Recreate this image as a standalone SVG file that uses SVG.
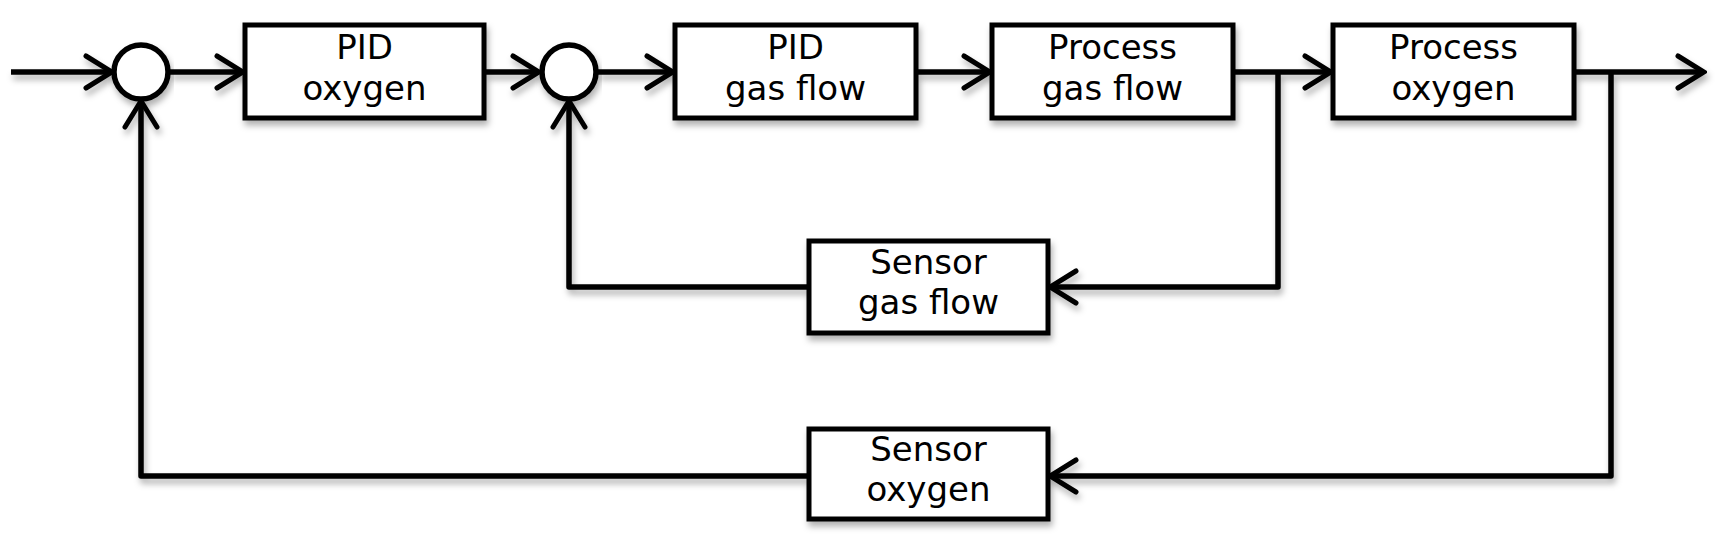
<svg xmlns="http://www.w3.org/2000/svg" width="1726" height="541" viewBox="0 0 1726 541">
<style>
.box{fill:#fff;stroke:#000;stroke-width:5}
.sum{fill:#fff;stroke:#000;stroke-width:5.5}
.wire{fill:none;stroke:#000;stroke-width:5.5;stroke-linejoin:round}
.lbl{font-family:"DejaVu Sans",Verdana,sans-serif;font-size:34px;text-anchor:middle;fill:#000}
</style>
<defs>
<filter id="sh" x="-10%" y="-20%" width="120%" height="160%">
<feDropShadow dx="2" dy="5" stdDeviation="3" flood-color="#000" flood-opacity="0.3"/>
</filter>
<marker id="ah" markerUnits="userSpaceOnUse" markerWidth="32" markerHeight="38" viewBox="0 0 32 38" refX="29" refY="19" orient="auto">
<path d="M3,3 L29,19 L3,35" fill="none" stroke="#000" stroke-width="5" stroke-linecap="round" stroke-linejoin="miter"/>
</marker>
</defs>
<g id="connectors" filter="url(#sh)">
<path class="wire" d="M11,72 H112" marker-end="url(#ah)"/>
<path class="wire" d="M170,72 H243" marker-end="url(#ah)"/>
<path class="wire" d="M486,72 H539" marker-end="url(#ah)"/>
<path class="wire" d="M598,72 H673" marker-end="url(#ah)"/>
<path class="wire" d="M918,72 H990" marker-end="url(#ah)"/>
<path class="wire" d="M1235,72 H1331" marker-end="url(#ah)"/>
<path class="wire" d="M1576,72 H1704" marker-end="url(#ah)"/>
<path class="wire" d="M1278,72 V287 H1050" marker-end="url(#ah)"/>
<path class="wire" d="M807,287 H569 V101" marker-end="url(#ah)"/>
<path class="wire" d="M1611,72 V476 H1050" marker-end="url(#ah)"/>
<path class="wire" d="M807,476 H141 V101" marker-end="url(#ah)"/>
</g>
<g id="sum1"><circle class="sum" cx="141" cy="72" r="27" filter="url(#sh)"/></g>
<g id="sum2"><circle class="sum" cx="569" cy="72" r="27" filter="url(#sh)"/></g>
<g id="pid-oxygen">
<rect class="box" x="245" y="25" width="239" height="93" filter="url(#sh)"/>
<text class="lbl" x="364.5" y="59">PID</text>
<text class="lbl" x="364.5" y="100">oxygen</text>
</g>
<g id="pid-gas-flow">
<rect class="box" x="675" y="25" width="241" height="93" filter="url(#sh)"/>
<text class="lbl" x="795.5" y="59">PID</text>
<text class="lbl" x="795.5" y="100">gas flow</text>
</g>
<g id="process-gas-flow">
<rect class="box" x="992" y="25" width="241" height="93" filter="url(#sh)"/>
<text class="lbl" x="1112.5" y="59">Process</text>
<text class="lbl" x="1112.5" y="100">gas flow</text>
</g>
<g id="process-oxygen">
<rect class="box" x="1333" y="25" width="241" height="93" filter="url(#sh)"/>
<text class="lbl" x="1453.5" y="59">Process</text>
<text class="lbl" x="1453.5" y="100">oxygen</text>
</g>
<g id="sensor-gas-flow">
<rect class="box" x="809" y="241" width="239" height="92" filter="url(#sh)"/>
<text class="lbl" x="928.5" y="274">Sensor</text>
<text class="lbl" x="928.5" y="314">gas flow</text>
</g>
<g id="sensor-oxygen">
<rect class="box" x="809" y="429" width="239" height="90" filter="url(#sh)"/>
<text class="lbl" x="928.5" y="461">Sensor</text>
<text class="lbl" x="928.5" y="501">oxygen</text>
</g>
</svg>
